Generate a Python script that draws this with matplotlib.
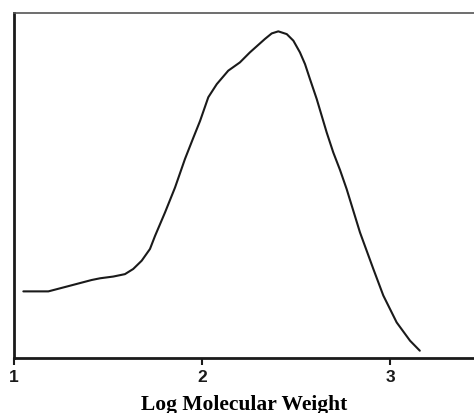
import matplotlib.pyplot as plt

# curve (log MW vs. relative amount)
log_mw = [1.051, 1.184, 1.282, 1.414, 1.459, 1.529, 1.591, 1.635, 1.680, 1.724,
          1.751, 1.804, 1.857, 1.910, 1.954, 1.990, 2.034, 2.079, 2.140, 2.202,
          2.255, 2.335, 2.371, 2.406, 2.451, 2.486, 2.521, 2.548, 2.574, 2.610,
          2.663, 2.698, 2.734, 2.769, 2.840, 2.911, 2.964, 3.035, 3.106, 3.158]
amount = [0.193, 0.193, 0.207, 0.226, 0.231, 0.236, 0.243, 0.258, 0.282, 0.316,
          0.354, 0.422, 0.494, 0.577, 0.638, 0.687, 0.756, 0.794, 0.833, 0.857,
          0.886, 0.925, 0.941, 0.947, 0.939, 0.920, 0.886, 0.852, 0.809, 0.751,
          0.654, 0.596, 0.545, 0.490, 0.364, 0.258, 0.181, 0.103, 0.050, 0.021]
xticks = [1, 2, 3]

fig = plt.figure(figsize=(4.74, 4.14), dpi=100)
ax = fig.add_axes([0.029, 0.133, 0.971, 0.833])

ax.plot(log_mw, amount, color='#1a1a1a', lw=1.5, solid_capstyle='round',
        solid_joinstyle='round')

ax.set_xlim(1, 3.446)
ax.set_ylim(0, 1)

ax.spines['left'].set_linewidth(2)
ax.spines['bottom'].set_linewidth(2)
ax.spines['left'].set_color('#1a1a1a')
ax.spines['bottom'].set_color('#1a1a1a')
ax.spines['top'].set_linewidth(1.2)
ax.spines['top'].set_color('#555555')
ax.spines['right'].set_visible(False)

ax.set_yticks([])
ax.set_xticks(xticks)
ax.set_xticklabels([str(t) for t in xticks], fontfamily='Liberation Sans',
                   fontweight='bold', fontsize=12.5)
ax.tick_params(axis='x', direction='out', length=5, width=1.5, pad=3,
               colors='#1a1a1a')

ax.set_xlabel('Log Molecular Weight', fontfamily='Liberation Serif',
              fontweight='bold', fontsize=15.5, labelpad=7)

fig.savefig('out.png', dpi=100)
